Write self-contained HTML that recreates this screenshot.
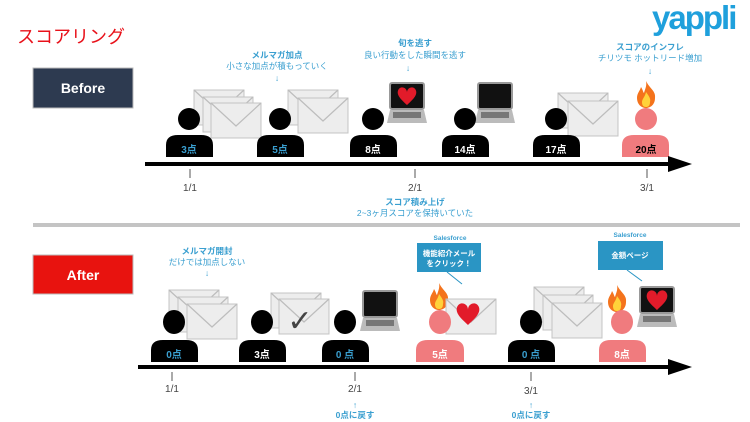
<!DOCTYPE html>
<html><head><meta charset="utf-8">
<style>
html,body{margin:0;padding:0;background:#fff;}
svg{display:block;font-family:"Liberation Sans","Noto Sans CJK JP",sans-serif;}
</style></head>
<body>
<svg width="750" height="422" viewBox="0 0 750 422" xmlns="http://www.w3.org/2000/svg">
<defs>
<g id="env">
<rect x="0" y="0" width="50" height="35" fill="#ededed" stroke="#c4c4c4" stroke-width="1"/>
<polyline points="0,0 25,23 50,0" fill="none" stroke="#bdbdbd" stroke-width="1.2"/>
</g>
<g id="laptop">
<rect x="2" y="0" width="34" height="26" rx="2" fill="#111" stroke="#999" stroke-width="2"/>
<polygon points="2,27 36,27 39,40 -1,40" fill="#bbb"/>
<rect x="5" y="29" width="28" height="6" fill="#777"/>
</g>
<g id="fire">
<path d="M10,0 C14,8 20,10 19,17 C19,24 14,27 10,27 C5,27 1,23 1,17 C1,12 4,10 5,6 C7,9 7,11 8,12 C9,8 11,5 10,0Z" fill="#f4731c"/>
<path d="M10,11 C13,15 15,18 14,21 C14,25 12,26 10,26 C7,26 6,24 6,21 C6,18 9,16 10,11Z" fill="#ffd23a"/>
</g>
<path id="heart" d="M0,-4 C0,-10 -8,-12 -10,-6 C-12,0 -4,6 0,10 C4,6 12,0 10,-6 C8,-12 0,-10 0,-4Z" fill="#e21b2a"/>
</defs>

<!-- header -->
<text x="17" y="43" font-size="18" fill="#e8111a">スコアリング</text>
<text x="652" y="29" font-size="33" font-weight="bold" fill="#1fa0dc" letter-spacing="-2">yappli</text>

<!-- BEFORE -->
<rect x="33" y="68" width="100" height="40" fill="#2d3a50" stroke="#bbb" stroke-width="1"/>
<text x="83" y="93" font-size="14" font-weight="bold" fill="#fff" text-anchor="middle">Before</text>

<g font-size="8.5" fill="#3a9fd0" text-anchor="middle">
<text x="277" y="58" font-weight="bold">メルマガ加点</text>
<text x="277" y="69">小さな加点が積もっていく</text>
<text x="277" y="81">↓</text>
<text x="415" y="46" font-weight="bold">旬を逃す</text>
<text x="415" y="58">良い行動をした瞬間を逃す</text>
<text x="408" y="71">↓</text>
<text x="650" y="50" font-weight="bold">スコアのインフレ</text>
<text x="650" y="61">チリツモ ホットリード増加</text>
<text x="650" y="74">↓</text>
<text x="415" y="205" font-weight="bold">スコア積み上げ</text>
<text x="415" y="216">2~3ヶ月スコアを保持いていた</text>
</g>

<!-- before icons -->
<use href="#env" x="194" y="90"/><use href="#env" x="203" y="97"/><use href="#env" x="211" y="103"/>
<use href="#env" x="288" y="90"/><use href="#env" x="298" y="98"/>
<use href="#laptop" x="388" y="83"/><use href="#heart" transform="translate(407,96) scale(0.9)"/>
<use href="#laptop" x="476" y="83"/>
<use href="#env" x="558" y="93"/><use href="#env" x="568" y="101"/>
<use href="#fire" x="636" y="81"/>

<g>
<ellipse cx="189" cy="119" rx="11" ry="11" fill="#000"/>
<path d="M166,157 V145 Q166,135 178,135 H201 Q213,135 213,145 V157Z" fill="#000"/>
<ellipse cx="280" cy="119" rx="11" ry="11" fill="#000"/>
<path d="M257,157 V145 Q257,135 269,135 H292 Q304,135 304,145 V157Z" fill="#000"/>
<ellipse cx="373" cy="119" rx="11" ry="11" fill="#000"/>
<path d="M350,157 V145 Q350,135 362,135 H385 Q397,135 397,145 V157Z" fill="#000"/>
<ellipse cx="465" cy="119" rx="11" ry="11" fill="#000"/>
<path d="M442,157 V145 Q442,135 454,135 H477 Q489,135 489,145 V157Z" fill="#000"/>
<ellipse cx="556" cy="119" rx="11" ry="11" fill="#000"/>
<path d="M533,157 V145 Q533,135 545,135 H568 Q580,135 580,145 V157Z" fill="#000"/>
<ellipse cx="646" cy="119" rx="11" ry="11" fill="#f07b7e"/>
<path d="M622,157 V145 Q622,135 634,135 H657 Q669,135 669,145 V157Z" fill="#f07b7e"/>
</g>
<g font-size="10" font-weight="bold" text-anchor="middle">
<text x="189" y="153" fill="#3a9fd0">3点</text>
<text x="280" y="153" fill="#3a9fd0">5点</text>
<text x="373" y="153" fill="#fff">8点</text>
<text x="465" y="153" fill="#fff">14点</text>
<text x="556" y="153" fill="#fff">17点</text>
<text x="646" y="153" fill="#000">20点</text>
</g>

<!-- before timeline -->
<rect x="145" y="162" width="525" height="4" fill="#000"/>
<polygon points="668,156 692,164 668,172" fill="#000"/>
<g stroke="#555" stroke-width="1">
<line x1="190" y1="169" x2="190" y2="178"/><line x1="415" y1="169" x2="415" y2="178"/><line x1="647" y1="169" x2="647" y2="178"/>
</g>
<g font-size="10" fill="#444" text-anchor="middle">
<text x="190" y="191">1/1</text><text x="415" y="191">2/1</text><text x="647" y="191">3/1</text>
</g>

<!-- separator -->
<rect x="33" y="223" width="707" height="4" fill="#c4c4c4"/>

<!-- AFTER -->
<rect x="33" y="255" width="100" height="39" fill="#e8130f" stroke="#bbb" stroke-width="1"/>
<text x="83" y="280" font-size="14" font-weight="bold" fill="#fff" text-anchor="middle">After</text>

<g font-size="8.5" fill="#3a9fd0" text-anchor="middle">
<text x="207" y="254" font-weight="bold">メルマガ開封</text>
<text x="207" y="265">だけでは加点しない</text>
<text x="207" y="276">↓</text>
<text x="355" y="408">↑</text>
<text x="355" y="418" font-weight="bold">0点に戻す</text>
<text x="531" y="408">↑</text>
<text x="531" y="418" font-weight="bold">0点に戻す</text>
<text x="450" y="240" font-size="6.5" font-weight="bold">Salesforce</text>
<text x="630" y="237" font-size="6.5" font-weight="bold">Salesforce</text>
</g>
<rect x="417" y="243" width="64" height="29" fill="#2a95c4"/>
<text x="449" y="256" font-size="7.5" font-weight="bold" fill="#fff" text-anchor="middle">機能紹介メール</text>
<text x="449" y="266" font-size="7.5" font-weight="bold" fill="#fff" text-anchor="middle">をクリック！</text>
<line x1="447" y1="272" x2="462" y2="284" stroke="#2a95c4" stroke-width="1"/>
<rect x="598" y="241" width="65" height="29" fill="#2a95c4"/>
<text x="630" y="258" font-size="7.5" font-weight="bold" fill="#fff" text-anchor="middle">金額ページ</text>
<line x1="627" y1="270" x2="642" y2="281" stroke="#2a95c4" stroke-width="1"/>

<!-- after icons -->
<use href="#env" x="169" y="290"/><use href="#env" x="178" y="297"/><use href="#env" x="187" y="304"/>
<use href="#env" x="271" y="293"/><use href="#env" x="279" y="299"/>
<text x="300" y="331" font-size="30" fill="#444" text-anchor="middle" font-family="DejaVu Sans">✓</text>
<use href="#laptop" x="361" y="291"/>
<use href="#fire" x="429" y="283"/>
<use href="#env" x="446" y="299"/><use href="#heart" transform="translate(468,314) scale(1.1)"/>
<use href="#env" x="534" y="287"/><use href="#env" x="543" y="295"/><use href="#env" x="552" y="303"/>
<use href="#fire" x="607" y="285"/>
<use href="#laptop" x="638" y="287"/><use href="#heart" transform="translate(657,300) scale(1.0)"/>

<g>
<ellipse cx="174" cy="322" rx="11" ry="12" fill="#000"/>
<path d="M151,362 V350 Q151,340 163,340 H186 Q198,340 198,350 V362Z" fill="#000"/>
<ellipse cx="262" cy="322" rx="11" ry="12" fill="#000"/>
<path d="M239,362 V350 Q239,340 251,340 H274 Q286,340 286,350 V362Z" fill="#000"/>
<ellipse cx="345" cy="322" rx="11" ry="12" fill="#000"/>
<path d="M322,362 V350 Q322,340 334,340 H357 Q369,340 369,350 V362Z" fill="#000"/>
<ellipse cx="440" cy="322" rx="11" ry="12" fill="#f07b7e"/>
<path d="M416,362 V350 Q416,340 428,340 H452 Q464,340 464,350 V362Z" fill="#f07b7e"/>
<ellipse cx="531" cy="322" rx="11" ry="12" fill="#000"/>
<path d="M508,362 V350 Q508,340 520,340 H543 Q555,340 555,350 V362Z" fill="#000"/>
<ellipse cx="622" cy="322" rx="11" ry="12" fill="#f07b7e"/>
<path d="M599,362 V350 Q599,340 611,340 H634 Q646,340 646,350 V362Z" fill="#f07b7e"/>
</g>
<g font-size="10" font-weight="bold" text-anchor="middle">
<text x="174" y="358" fill="#3a9fd0">0点</text>
<text x="262" y="358" fill="#fff">3点</text>
<text x="345" y="358" fill="#3a9fd0">0 点</text>
<text x="440" y="358" fill="#fff">5点</text>
<text x="531" y="358" fill="#3a9fd0">0 点</text>
<text x="622" y="358" fill="#fff">8点</text>
</g>

<rect x="138" y="365" width="532" height="4" fill="#000"/>
<polygon points="668,359 692,367 668,375" fill="#000"/>
<g stroke="#555" stroke-width="1">
<line x1="172" y1="372" x2="172" y2="381"/><line x1="355" y1="372" x2="355" y2="381"/><line x1="531" y1="372" x2="531" y2="381"/>
</g>
<g font-size="10" fill="#444" text-anchor="middle">
<text x="172" y="392">1/1</text><text x="355" y="392">2/1</text><text x="531" y="394">3/1</text>
</g>
</svg>
</body></html>
